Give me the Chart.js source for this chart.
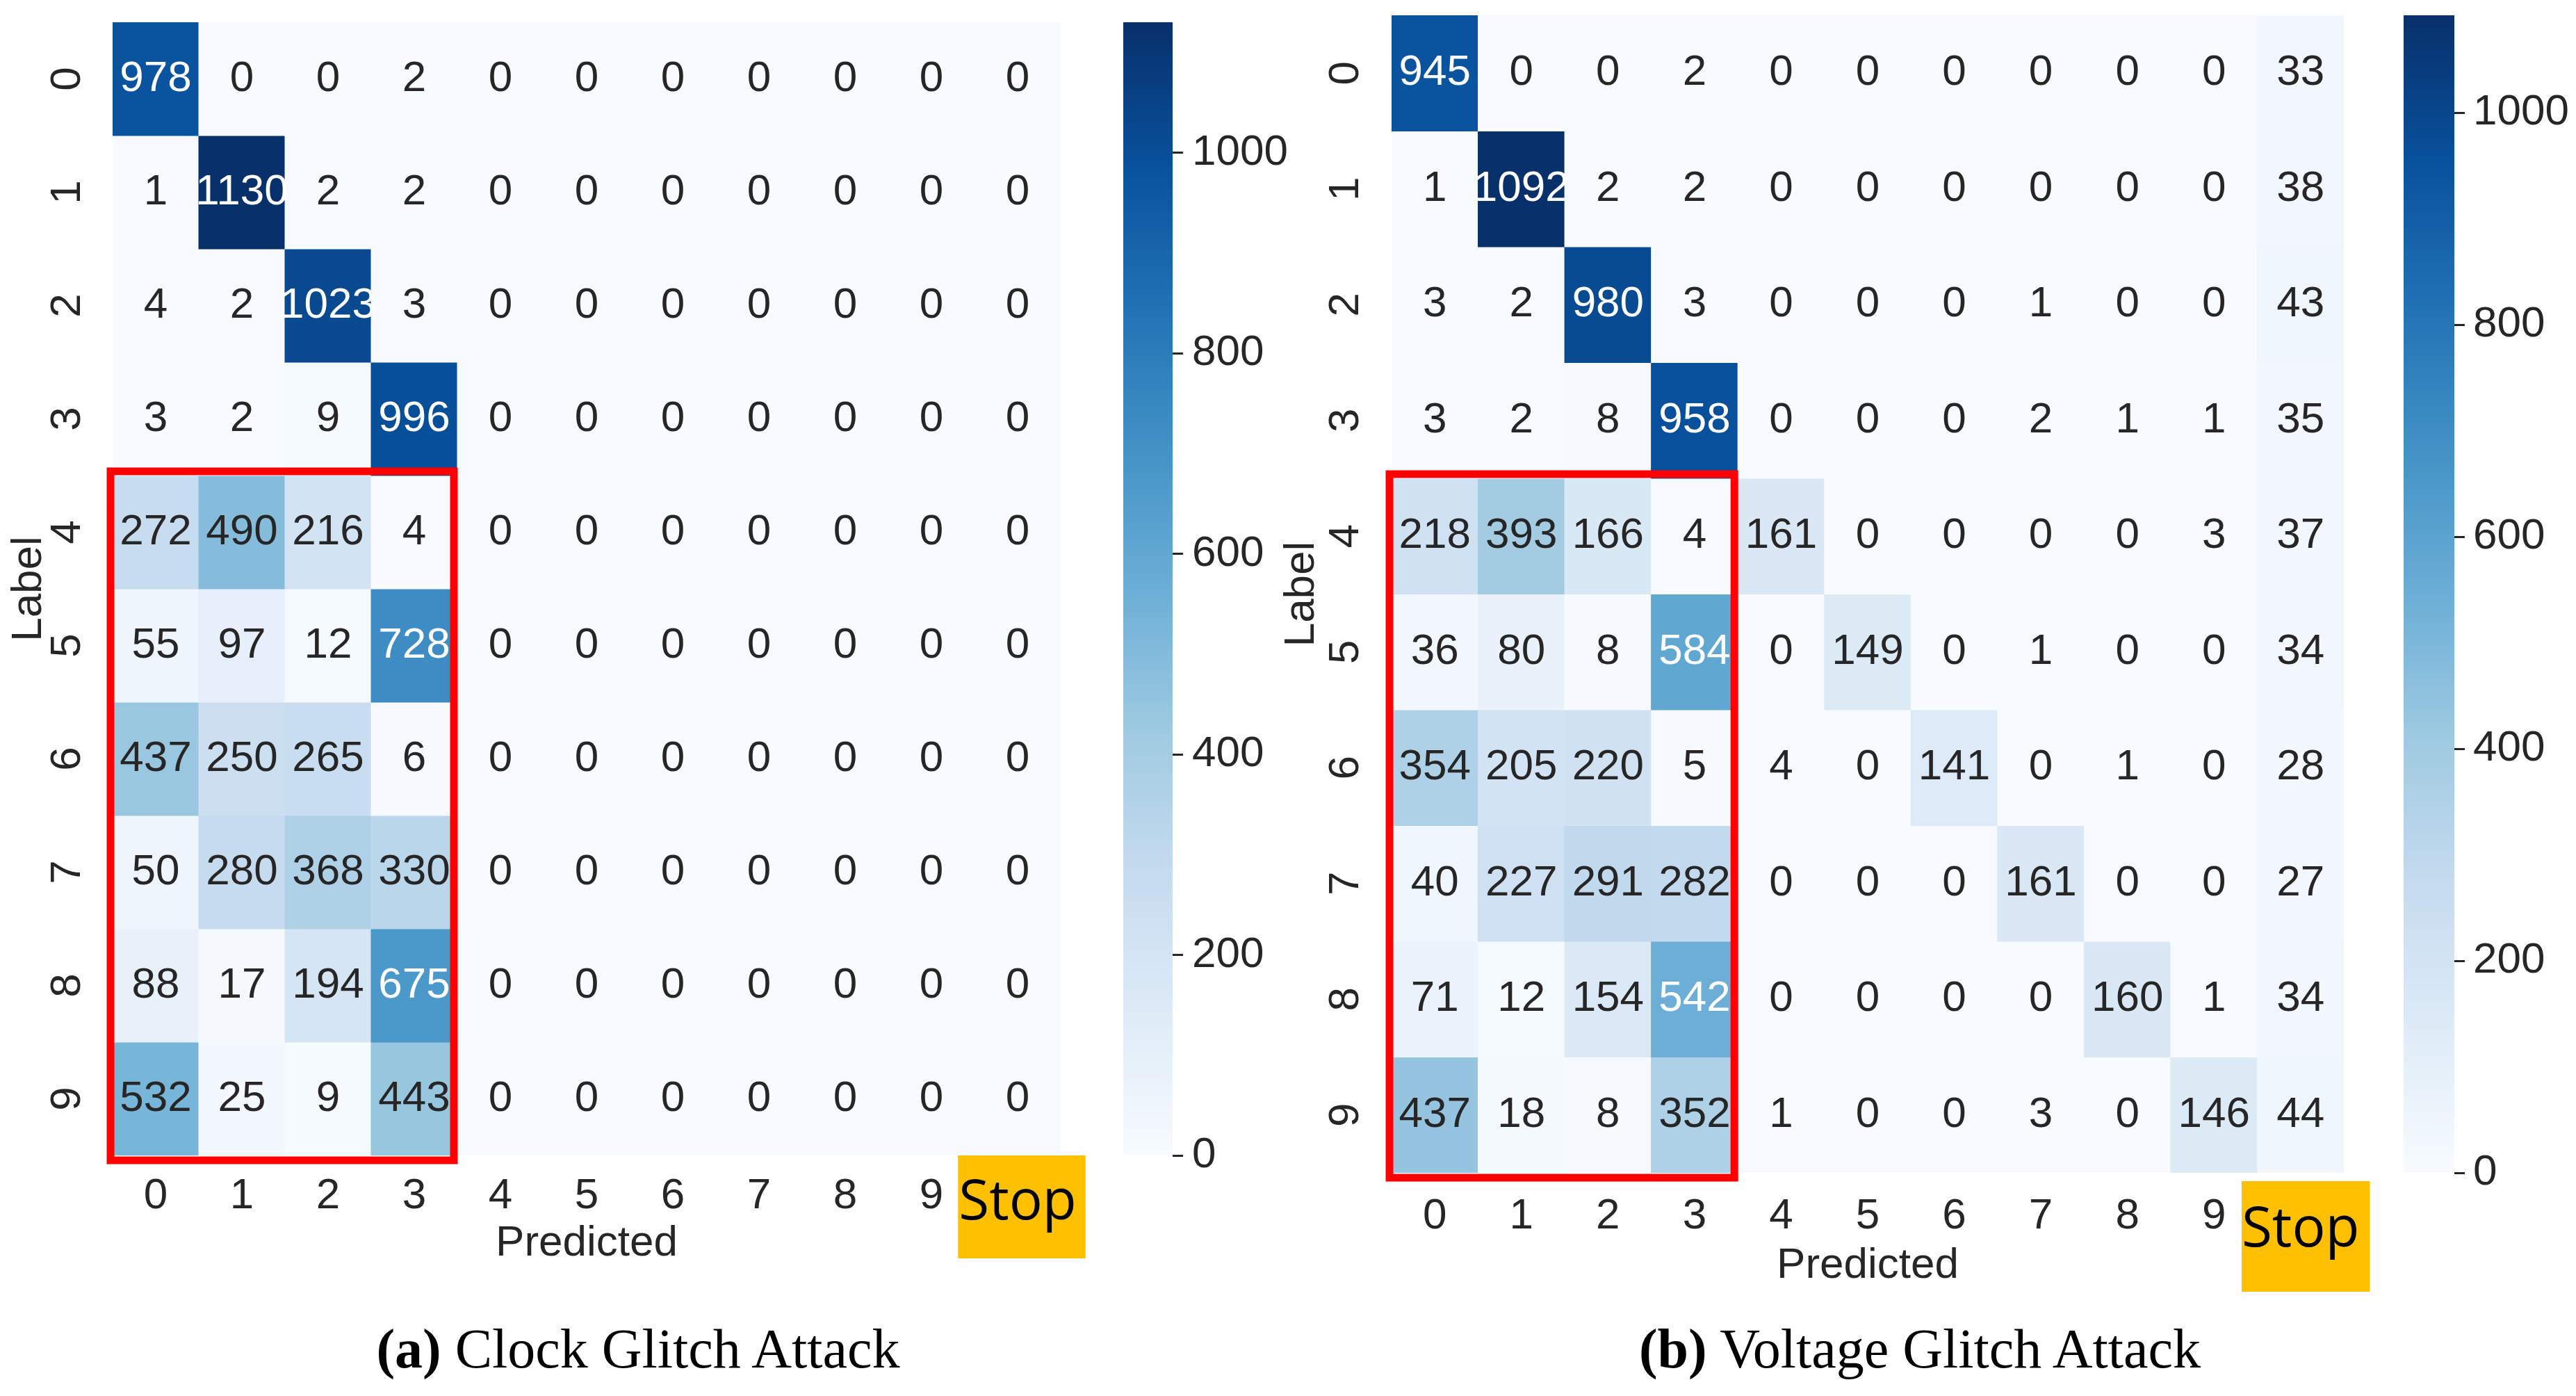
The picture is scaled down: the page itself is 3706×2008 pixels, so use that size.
<!DOCTYPE html>
<html>
<head>
<meta charset="utf-8">
<script src="https://cdn.jsdelivr.net/npm/chart.js@4.4.1/dist/chart.umd.min.js"></script>
<style>
  html, body { margin: 0; padding: 0; background: #fff; }
  #figure { position: relative; width: 3706px; height: 2008px; background: #fff; overflow: hidden; }
  #figure canvas { position: absolute; top: 0; }
  .caption {
    position: absolute; top: 1890px; width: 1400px; text-align: center;
    font-family: "Liberation Serif", "Times New Roman", serif; font-size: 80px; line-height: 100px; color: #000;
  }
</style>
</head>
<body>
<div id="figure">
  <canvas id="clockMap" width="1600" height="1880" style="left:0px"></canvas>
  <canvas id="clockBar" width="262" height="1700" style="left:1600px"></canvas>
  <canvas id="voltageMap" width="1600" height="1900" style="left:1836px"></canvas>
  <canvas id="voltageBar" width="266" height="1730" style="left:3440px"></canvas>
  <div class="caption" style="left:218px"><b>(a)</b> Clock Glitch Attack</div>
  <div class="caption" style="left:2062px"><b>(b)</b> Voltage Glitch Attack</div>
</div>
<script>
// axis categories
const predictedLabels = ['0', '1', '2', '3', '4', '5', '6', '7', '8', '9', 'Stop'];
const trueLabels = ['0', '1', '2', '3', '4', '5', '6', '7', '8', '9'];

// confusion matrices, one row per true label
const clockGlitch = [
  [978, 0, 0, 2, 0, 0, 0, 0, 0, 0, 0],
  [1, 1130, 2, 2, 0, 0, 0, 0, 0, 0, 0],
  [4, 2, 1023, 3, 0, 0, 0, 0, 0, 0, 0],
  [3, 2, 9, 996, 0, 0, 0, 0, 0, 0, 0],
  [272, 490, 216, 4, 0, 0, 0, 0, 0, 0, 0],
  [55, 97, 12, 728, 0, 0, 0, 0, 0, 0, 0],
  [437, 250, 265, 6, 0, 0, 0, 0, 0, 0, 0],
  [50, 280, 368, 330, 0, 0, 0, 0, 0, 0, 0],
  [88, 17, 194, 675, 0, 0, 0, 0, 0, 0, 0],
  [532, 25, 9, 443, 0, 0, 0, 0, 0, 0, 0]
];

const voltageGlitch = [
  [945, 0, 0, 2, 0, 0, 0, 0, 0, 0, 33],
  [1, 1092, 2, 2, 0, 0, 0, 0, 0, 0, 38],
  [3, 2, 980, 3, 0, 0, 0, 1, 0, 0, 43],
  [3, 2, 8, 958, 0, 0, 0, 2, 1, 1, 35],
  [218, 393, 166, 4, 161, 0, 0, 0, 0, 3, 37],
  [36, 80, 8, 584, 0, 149, 0, 1, 0, 0, 34],
  [354, 205, 220, 5, 4, 0, 141, 0, 1, 0, 28],
  [40, 227, 291, 282, 0, 0, 0, 161, 0, 0, 27],
  [71, 12, 154, 542, 0, 0, 0, 0, 160, 1, 34],
  [437, 18, 8, 352, 1, 0, 0, 3, 0, 146, 44]
];

// block outlined in red: rows 4..9, columns 0..3
const highlightRows = [4, 9];
const highlightCols = [0, 3];
const colorbarStep = 200;

// matplotlib "Blues"
const BLUES = ['#f7fbff', '#deebf7', '#c6dbef', '#9ecae1', '#6baed6', '#4292c6', '#2171b5', '#08519c', '#08306b'];
const bluesRgb = BLUES.map(h => [1, 3, 5].map(i => parseInt(h.slice(i, i + 2), 16)));

function blues(t) {
  t = Math.min(1, Math.max(0, t));
  const q = Math.min(255, Math.floor(t * 256)) / 255;
  const pos = q * 8;
  const i = Math.min(7, Math.floor(pos));
  const f = pos - i;
  return bluesRgb[i].map((v, k) => v + (bluesRgb[i + 1][k] - v) * f);
}

function rgb(c) {
  return `rgb(${c.map(Math.round).join(',')})`;
}

// same rule seaborn uses to pick annotation colour
function luminance(c) {
  const lin = v => {
    v /= 255;
    return v <= 0.03928 ? v / 12.92 : Math.pow((v + 0.055) / 1.055, 2.4);
  };
  return 0.2126 * lin(c[0]) + 0.7152 * lin(c[1]) + 0.0722 * lin(c[2]);
}

const SANS = '"Liberation Sans", Arial, Helvetica, sans-serif';
const INK = '#262626';

const cellText = {
  id: 'cellText',
  afterDatasetsDraw(chart, args, opts) {
    const ctx = chart.ctx;
    ctx.save();
    ctx.font = `62px ${SANS}`;
    ctx.textAlign = 'center';
    ctx.textBaseline = 'middle';
    chart.data.datasets.forEach((ds, r) => {
      chart.getDatasetMeta(r).data.forEach((bar, c) => {
        const v = opts.matrix[r][c];
        ctx.fillStyle = luminance(blues(v / opts.vmax)) > 0.408 ? INK : '#ffffff';
        ctx.fillText(String(v), bar.x, (bar.y + bar.base) / 2);
      });
    });

    // red box round the highlighted block
    const a = chart.getDatasetMeta(opts.rows[0]).data[opts.cols[0]];
    const b = chart.getDatasetMeta(opts.rows[1]).data[opts.cols[1]];
    const left = a.x - a.width / 2 - 3;
    const right = b.x + b.width / 2 - 5;
    const top = Math.min(a.y, a.base) - 6;
    const bottom = Math.max(b.y, b.base) + 7;
    ctx.strokeStyle = '#ff0000';
    ctx.lineWidth = 11;
    ctx.strokeRect(left, top, right - left, bottom - top);
    ctx.restore();
  }
};

function drawHeatmap(id, matrix, g) {
  const vmax = Math.max(...matrix.flat());
  const stopIndex = predictedLabels.indexOf('Stop');

  return new Chart(document.getElementById(id), {
    type: 'bar',
    data: {
      labels: predictedLabels,
      datasets: matrix.map((row, r) => ({
        label: trueLabels[r],
        data: row.map(() => 1),
        backgroundColor: row.map(v => rgb(blues(v / vmax))),
        borderWidth: 0,
        barPercentage: 1,
        categoryPercentage: 1,
        inflateAmount: 0.5
      }))
    },
    options: {
      responsive: false,
      animation: false,
      devicePixelRatio: 1,
      layout: { padding: g.padding },
      plugins: {
        legend: { display: false },
        tooltip: { enabled: false },
        cellText: { matrix, vmax, rows: highlightRows, cols: highlightCols }
      },
      scales: {
        x: {
          stacked: true,
          grid: { display: false },
          border: { display: false },
          ticks: {
            autoSkip: false,
            minRotation: 0,
            maxRotation: 0,
            padding: g.xTickPad,
            z: 1,
            color: c => c.index === stopIndex ? '#000' : INK,
            font: c => c.index === stopIndex
              ? { family: '"Open Sans", "Noto Sans", sans-serif', size: 80, lineHeight: g.stopLineHeight }
              : { family: SANS, size: 62 },
            showLabelBackdrop: c => c.index === stopIndex,
            backdropColor: '#ffc000',
            backdropPadding: g.stopPad
          },
          title: {
            display: true,
            text: 'Predicted',
            color: INK,
            font: { family: SANS, size: 62 },
            padding: { top: 0, bottom: 0 }
          },
          afterFit: s => {
            s.height = g.xAxisHeight;
            s.paddingLeft = 0;
            s.paddingRight = 0;
          }
        },
        y: {
          stacked: true,
          reverse: true,
          min: 0,
          max: trueLabels.length,
          grid: { display: false },
          border: { display: false },
          afterBuildTicks: s => {
            s.ticks = trueLabels.map((_, i) => ({ value: i + 0.5 }));
          },
          ticks: {
            autoSkip: false,
            minRotation: 90,
            maxRotation: 90,
            crossAlign: 'center',
            padding: g.yTickPad,
            color: INK,
            font: { family: SANS, size: 62 },
            callback: (v, i) => trueLabels[i]
          },
          title: {
            display: true,
            text: 'Label',
            color: INK,
            font: { family: SANS, size: 62 },
            padding: { top: g.yTitlePad, bottom: 0 }
          },
          afterFit: s => {
            s.width = g.yAxisWidth;
            s.paddingTop = 0;
            s.paddingBottom = 0;
          }
        }
      }
    },
    plugins: [cellText]
  });
}

function drawColorbar(id, matrix, g) {
  const vmax = Math.max(...matrix.flat());

  return new Chart(document.getElementById(id), {
    type: 'bar',
    data: {
      labels: [''],
      datasets: [{
        data: [vmax],
        backgroundColor: c => {
          const { chart } = c;
          if (!chart.chartArea) return BLUES[4];
          const y = chart.scales.y;
          const grad = chart.ctx.createLinearGradient(0, y.getPixelForValue(0), 0, y.getPixelForValue(vmax));
          BLUES.forEach((col, k) => grad.addColorStop(k / (BLUES.length - 1), col));
          return grad;
        },
        borderWidth: 0,
        barPercentage: 1,
        categoryPercentage: 1,
        inflateAmount: 0
      }]
    },
    options: {
      responsive: false,
      animation: false,
      devicePixelRatio: 1,
      layout: { padding: g.padding },
      plugins: { legend: { display: false }, tooltip: { enabled: false } },
      scales: {
        x: { display: false },
        y: {
          position: 'right',
          min: 0,
          max: vmax,
          grid: { display: true, drawOnChartArea: false, drawTicks: true, tickLength: 15, tickWidth: 3, tickColor: INK },
          border: { display: false },
          ticks: {
            stepSize: colorbarStep,
            includeBounds: false,
            padding: g.tickPad,
            color: INK,
            font: { family: SANS, size: 62 },
            callback: v => String(v)
          },
          afterFit: s => {
            s.width = g.axisWidth;
            s.paddingTop = 0;
            s.paddingBottom = 0;
          }
        }
      }
    }
  });
}

drawHeatmap('clockMap', clockGlitch, {
  padding: { left: 0, top: 32, right: 74, bottom: 54 },
  yAxisWidth: 162, xAxisHeight: 164,
  yTickPad: 39, xTickPad: 14, yTitlePad: 5,
  stopLineHeight: 1.175,
  stopPad: { top: 31, bottom: 32, left: 1, right: 13 }
});
drawColorbar('clockBar', clockGlitch, {
  padding: { left: 16, top: 32, right: 0, bottom: 38 },
  axisWidth: 175, tickPad: 13
});

drawHeatmap('voltageMap', voltageGlitch, {
  padding: { left: 0, top: 22, right: 64, bottom: 42 },
  yAxisWidth: 166, xAxisHeight: 171,
  yTickPad: 40, xTickPad: 18, yTitlePad: 0,
  stopLineHeight: 1.425,
  stopPad: { top: 14, bottom: 33, left: 0, right: 15 }
});
drawColorbar('voltageBar', voltageGlitch, {
  padding: { left: 18, top: 22, right: 0, bottom: 43 },
  axisWidth: 175, tickPad: 12
});
</script>
</body>
</html>
